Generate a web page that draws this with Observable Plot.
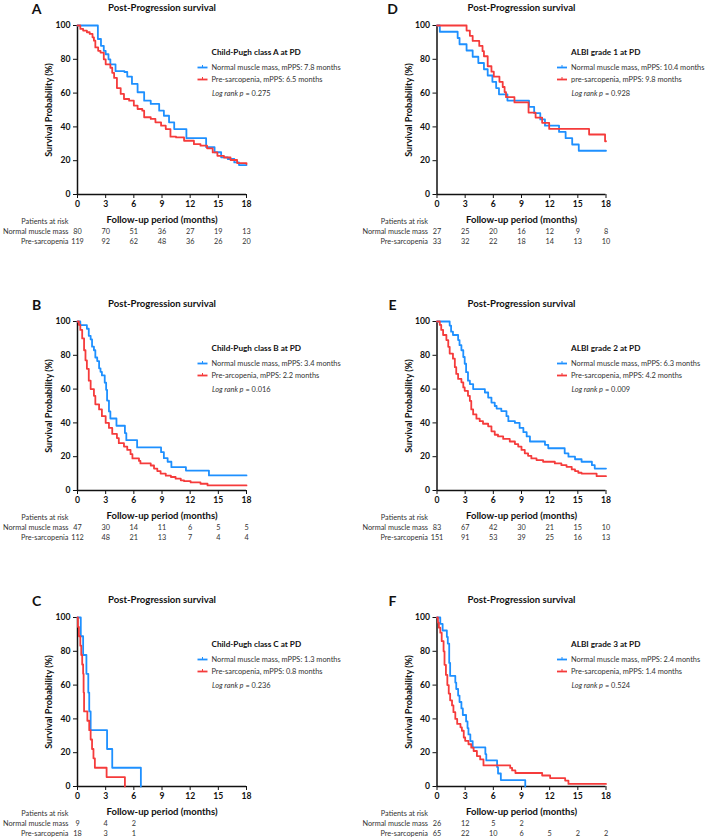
<!DOCTYPE html>
<html><head><meta charset="utf-8">
<script src="https://cdn.jsdelivr.net/npm/d3@7"></script>
<script src="https://cdn.jsdelivr.net/npm/@observablehq/plot@0.6"></script>
<style>
body{margin:0;background:#fff;width:709px;height:837px;position:relative;overflow:hidden;font-family:Lato,sans-serif}
.panel{position:absolute}
</style></head><body>
<script>
// ---------- shared ticks ----------
const months = [0, 3, 6, 9, 12, 15, 18];
const survTicks = [0, 20, 40, 60, 80, 100];
const groups = ["normal", "pre"];

// ---------- Panel A: Child-Pugh class A ----------
const aNormalT = [0,2.17,2.5,2.8,3.0,3.3,3.5,4.05,5.0,5.3,5.8,6.4,7.1,7.8,8.7,9.2,9.75,10.3,11.6,13.7,14.6,15.3,16.0,16.7,17.2,18];
const aNormalS = [100,92,88,85,83,80,77,73,72.5,69.8,65.4,60.5,55.5,53.6,49.6,46.6,42.7,38.7,33.3,28,25,22,21,19,17.4,17.4];
const aPreT = [0,0.3,0.6,1.0,1.3,1.6,1.75,1.9,2.2,2.45,2.8,3.0,3.5,3.7,3.9,4.2,4.6,4.95,5.5,6.0,6.4,6.9,7.1,7.8,8.3,8.9,9.4,9.9,10.5,11.35,12.4,13.1,13.8,14.4,14.9,15.6,16.3,17.0,18];
const aPreS = [100,98,97,96,95,93,91,87,85,84,80,77,75,72,69,63,59.5,56.5,55.5,52.6,50.6,49.6,45.7,44.7,42.7,40.7,38.7,34.2,33.8,31.8,29.8,28.9,27.3,24.9,22.9,21.9,20.4,18.6,18];
const aRiskNormal = [80,70,51,36,27,19,13];
const aRiskPre = [119,92,62,48,36,26,20];

// ---------- Panel B: Child-Pugh class B ----------
const bNormalT = [0,0.3,1.0,1.2,1.4,1.55,1.75,1.9,2.1,2.3,2.45,2.6,2.9,3.05,3.15,3.35,3.5,4.15,5.05,5.2,6.35,8.9,9.2,9.6,10.0,11.55,14.0,18];
const bNormalS = [100,97.9,95.7,91.5,89.4,85.1,83,78.7,76.6,72.3,70.2,68.1,63.8,59.6,53.2,46.8,42.6,38.3,34,29.8,25.5,22.7,19.1,17,13.8,11.8,8.9,8.9];
const bPreT = [0,0.15,0.3,0.5,0.7,0.85,1.0,1.2,1.4,1.75,1.9,2.3,2.6,3.0,3.35,3.7,4.2,4.4,4.95,5.3,5.65,5.85,6.55,6.7,7.8,8.15,8.5,8.85,9.4,9.95,10.45,11.0,11.35,12.05,13.1,13.85,18];
const bPreS = [100,98,95,90,83,77,72,65,60,56,51,48,44,40,37,33.5,31,28,26,24,21.5,19,17.5,16,14.8,13,11.5,10,8.8,8,7,6,5.5,4.8,4,3,3];
const bRiskNormal = [47,30,14,11,6,5,5];
const bRiskPre = [112,48,21,13,7,4,4];

// ---------- Panel C: Child-Pugh class C ----------
const cNormalT = [0,0.35,0.6,0.95,1.15,1.25,1.4,3.15,3.7,6.75];
const cNormalS = [100,88.9,77.8,66.7,55.6,44.4,33.3,22.2,11.1,0];
const cPreT = [0,0.05,0.15,0.3,0.4,0.5,0.6,0.65,0.7,1.05,1.25,1.4,1.55,1.7,1.85,3.1,5.05];
const cPreS = [100,94.4,88.9,83.3,77.8,72.2,66.7,55.6,44.4,38.9,33.3,27.8,22.2,16.7,11.1,5.6,0];
const cRiskNormal = [9,4,2];
const cRiskPre = [18,3,1];

// ---------- Panel D: ALBI grade 1 ----------
const dNormalT = [0,0.3,2.2,2.4,3.15,3.8,4.4,5.0,5.4,5.9,6.3,6.6,7.5,9.8,10.35,11.0,11.5,13.0,13.7,14.4,15.1,18];
const dNormalS = [100,96.3,92.6,88.9,85.2,81.5,77.8,74.1,70.4,66.7,63,59.3,55.6,51.9,48.1,44.4,40.7,37,33.3,29.6,25.9,25.9];
const dPreT = [0,3.15,3.5,3.8,4.5,4.85,5.0,5.4,5.8,6.05,6.65,7.0,7.2,7.35,8.25,9.75,10.5,11.2,11.95,16.2,17.9,18];
const dPreS = [100,97,93.9,90.9,87.9,84.8,81.8,75.9,72.7,69.7,66.7,63.6,60.6,57.6,54.5,48.5,45.5,42.4,38.8,35.5,31.5,31.5];
const dRiskNormal = [27,25,20,16,12,9,8];
const dRiskPre = [33,32,22,18,14,13,10];

// ---------- Panel E: ALBI grade 2 ----------
const eNormalT = [0,1.35,1.5,1.7,2.25,2.4,2.6,2.8,2.95,3.1,3.3,3.5,3.85,4.2,5.1,5.45,5.8,6.15,6.35,6.85,7.4,7.6,8.3,8.8,9.2,9.55,9.9,11.5,11.85,13.6,14.0,14.7,15.4,16.5,16.8,18];
const eNormalS = [100,97.6,94,92,89,86,83,79,75,70,65,63,60,60,58,55,52,50,48.5,47,44,41,40,37,34.5,32,29,27,25,22,20,18.5,17,15,13,13];
const ePreT = [0,0.3,0.45,0.65,1.0,1.2,1.35,1.7,1.9,2.05,2.25,2.6,2.8,2.95,3.3,3.5,3.65,3.85,4.2,4.55,4.9,5.45,5.8,6.15,6.5,7.05,7.75,8.3,8.65,9.0,9.35,9.7,10.05,10.6,11.3,12.55,13.25,13.8,14.35,14.7,15.05,15.4,17.0,18];
const ePreS = [100,98,95,92,89,85,81,78,73,69,66,64,61,59,56,53,48,45,42.5,41,39.5,38,35,33,32,30.5,29,27.5,26,24,22,20.5,19,18,17,16,15,14,12.5,11.5,10.5,10,8.5,8.5];
const eRiskNormal = [83,67,42,30,21,15,10];
const eRiskPre = [151,91,53,39,25,16,13];

// ---------- Panel F: ALBI grade 3 ----------
const fNormalT = [0,0.35,0.6,1.05,1.15,1.3,1.4,1.95,2.05,2.25,2.4,2.6,2.75,3.1,3.25,3.35,3.55,3.8,5.15,5.25,6.4,6.5,6.8,9.4];
const fNormalS = [100,96.2,92.3,88.5,84.6,73.1,65.4,61.5,57.7,53.8,50,46.2,42.3,38.5,34.6,30.8,26.9,23.1,19.2,15.4,11.5,7.7,3.8,0];
const fPreT = [0,0.1,0.2,0.35,0.5,0.7,0.8,0.95,1.1,1.25,1.4,1.6,1.75,1.95,2.15,2.5,2.65,2.85,3.0,3.35,3.65,3.9,4.25,4.6,4.95,7.8,8.0,8.35,11.2,12.05,13.65,14.0,18];
const fPreS = [100,97,94,91,86,80,72,66,60,55,51,48,44,40,37,35,33,29,27,25,23,21,18,16,12.5,11,9.5,8,6.5,5,3.5,1.5,1.5];
const fRiskNormal = [26,12,5,2];
const fRiskPre = [65,22,10,6,5,2,2];

// ---------- text ----------
const panelLetters = ["A","B","C","D","E","F"];
const legendTitles = ["Child-Pugh class A at PD","Child-Pugh class B at PD","Child-Pugh class C at PD","ALBI grade 1 at PD","ALBI grade 2 at PD","ALBI grade 3 at PD"];
const normalLabels = ["Normal muscle mass, mPPS: 7.8 months","Normal muscle mass, mPPS: 3.4 months","Normal muscle mass, mPPS: 1.3 months","Normal muscle mass, mPPS: 10.4 months","Normal muscle mass, mPPS: 6.3 months","Normal muscle mass, mPPS: 2.4 months"];
const preLabels = ["Pre-sarcopenia, mPPS: 6.5 months","Pre-arcopenia, mPPS: 2.2 months","Pre-sarcopenia, mPPS: 0.8 months","pre-sarcopenia, mPPS: 9.8 months","Pre-sarcopenia, mPPS: 4.2 months","Pre-sarcopenia, mPPS: 1.4 months"];
const pValues = ["0.275","0.016","0.236","0.928","0.009","0.524"];
const rowLabels = ["Patients at risk","Normal muscle mass","Pre-sarcopenia"];
const chartTitle = "Post-Progression survival";
const xLabel = "Follow-up period (months)";
const yLabel = "Survival Probability (%)";

const BLUE = "#1e90ff";
const RED = "#f53b3b";
const FONT = "Lato, 'Open Sans', sans-serif";

const panels = [
  {nT:aNormalT,nS:aNormalS,pT:aPreT,pS:aPreS,rN:aRiskNormal,rP:aRiskPre,left:0,top:0},
  {nT:bNormalT,nS:bNormalS,pT:bPreT,pS:bPreS,rN:bRiskNormal,rP:bRiskPre,left:0,top:296},
  {nT:cNormalT,nS:cNormalS,pT:cPreT,pS:cPreS,rN:cRiskNormal,rP:cRiskPre,left:0,top:592},
  {nT:dNormalT,nS:dNormalS,pT:dPreT,pS:dPreS,rN:dRiskNormal,rP:dRiskPre,left:354,top:0},
  {nT:eNormalT,nS:eNormalS,pT:ePreT,pS:ePreS,rN:eRiskNormal,rP:eRiskPre,left:354,top:296},
  {nT:fNormalT,nS:fNormalS,pT:fPreT,pS:fPreS,rN:fRiskNormal,rP:fRiskPre,left:354,top:592}
];

function legendMark(i) {
  return (index, scales, values, dims) => {
    const g = d3.create("svg:g").attr("font-family", FONT).attr("fill", "#222").attr("text-anchor", "start");
    const x0 = dims.marginLeft + 134.5, y0 = dims.marginTop;
    g.append("text").attr("x", x0).attr("y", y0 + 27.5).attr("dy", "0.35em")
      .attr("font-weight", "bold").attr("font-size", 8.2).attr("fill", "#111").text(legendTitles[i]);
    [[normalLabels[i], BLUE, 42.5], [preLabels[i], RED, 54.5]].forEach(([lab, col, dy]) => {
      g.append("line").attr("x1", x0 - 14).attr("x2", x0 - 4).attr("y1", y0 + dy).attr("y2", y0 + dy)
        .attr("stroke", col).attr("stroke-width", 1.8);
      g.append("line").attr("x1", x0 - 9).attr("x2", x0 - 9).attr("y1", y0 + dy - 2.5).attr("y2", y0 + dy)
        .attr("stroke", col).attr("stroke-width", 1);
      g.append("text").attr("x", x0).attr("y", y0 + dy).attr("dy", "0.35em")
        .attr("font-size", 7.4).attr("font-weight", "normal").attr("fill", "#333").text(lab);
    });
    const t = g.append("text").attr("x", x0 + 0.5).attr("y", y0 + 68).attr("dy", "0.35em")
      .attr("font-size", 7.4).attr("font-weight", "normal").attr("fill", "#333");
    t.append("tspan").attr("font-style", "italic").text("Log rank p");
    t.append("tspan").text(" = " + pValues[i]);
    return g.node();
  };
}

panels.forEach((p, i) => {
  const series = [
    ...p.nT.map((t, k) => ({t, s: p.nS[k], g: "normal"})),
    ...p.pT.map((t, k) => ({t, s: p.pS[k], g: "pre"}))
  ];
  const riskN = p.rN.map((n, k) => ({t: months[k], n}));
  const riskP = p.rP.map((n, k) => ({t: months[k], n}));
  const ml = p.left === 0 ? 77 : 82.5;
  const W = 355, PW = 169;
  const small = {fontSize: 7.3, fontWeight: "normal", fill: "#333", lineAnchor: "middle"};
  const chart = Plot.plot({
    width: W, height: 245,
    marginTop: 25, marginBottom: 51, marginLeft: ml, marginRight: W - ml - PW,
    style: {fontFamily: FONT, fontSize: "8.6px", fontWeight: "bold", background: "none", overflow: "visible", color: "#111"},
    x: {domain: [0, 18], ticks: months, tickSize: 4, tickPadding: 2, label: null},
    y: {domain: [0, 100], ticks: survTicks, tickSize: 4, tickPadding: 3, label: null},
    color: {domain: groups, range: [BLUE, RED]},
    marks: [
      Plot.ruleX([0], {strokeWidth: 1.5}),
      Plot.ruleY([0], {strokeWidth: 1.5}),
      Plot.line(series, {x: "t", y: "s", z: "g", stroke: "g", curve: "step-after", strokeWidth: 1.8}),
      Plot.text([panelLetters[i]], {frameAnchor: "top-left", textAnchor: "middle", lineAnchor: "middle", dx: p.left === 0 ? -41 : -44.5, dy: -15.5, fontSize: 14, fontWeight: "bold", fill: "#111"}),
      Plot.text([chartTitle], {frameAnchor: "top", lineAnchor: "middle", dy: -18, fontSize: 9.6, fontWeight: "bold", fill: "#111"}),
      Plot.text([yLabel], {frameAnchor: "left", textAnchor: "middle", lineAnchor: "middle", dx: -28, rotate: -90, fontSize: 9.2, fontWeight: "bold", fill: "#111"}),
      Plot.text([xLabel], {frameAnchor: "bottom", lineAnchor: "middle", dy: 25, fontSize: 9.5, fontWeight: "bold", fill: "#111"}),
      Plot.text([rowLabels[0]], {frameAnchor: "bottom-left", textAnchor: "end", dx: -9, dy: 27.5, ...small}),
      Plot.text([rowLabels[1]], {frameAnchor: "bottom-left", textAnchor: "end", dx: -9, dy: 37.5, ...small}),
      Plot.text([rowLabels[2]], {frameAnchor: "bottom-left", textAnchor: "end", dx: -9, dy: 47.5, ...small}),
      Plot.text(riskN, {x: "t", text: "n", frameAnchor: "bottom", dy: 37.5, ...small}),
      Plot.text(riskP, {x: "t", text: "n", frameAnchor: "bottom", dy: 47.5, ...small}),
      legendMark(i)
    ]
  });
  const div = document.createElement("div");
  div.className = "panel";
  div.style.left = p.left + "px";
  div.style.top = p.top + "px";
  div.appendChild(chart);
  document.body.appendChild(div);
});
</script>
</body></html>
